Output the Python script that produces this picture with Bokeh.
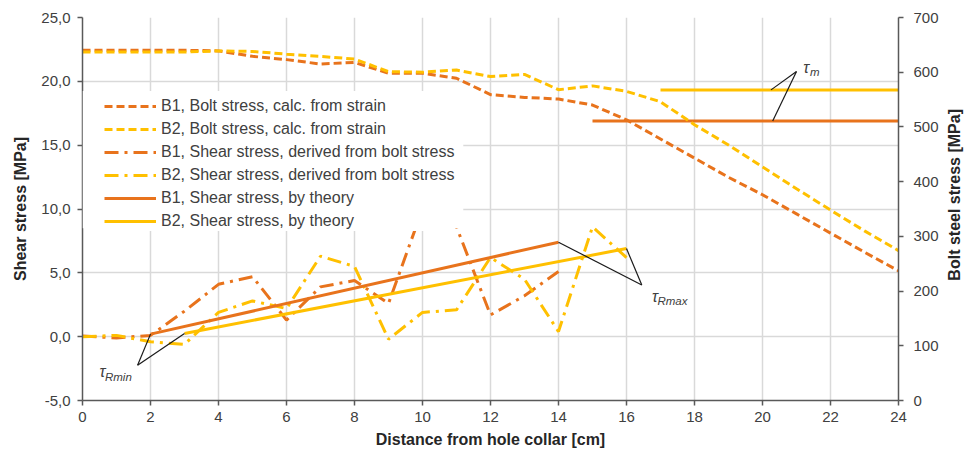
import math
from bokeh.plotting import figure
from bokeh.layouts import row
from bokeh.models import (Range1d, LinearAxis, FixedTicker, CustomJSTickFormatter,
                          Legend, LegendItem, BoxAnnotation)
from bokeh.embed import file_html
from bokeh.resources import INLINE
from bokeh.core.properties import value

# ---------------- data ----------------
bolt_dist = list(range(25))  # cm
b1_bolt = [640, 640, 640, 640, 639, 629, 623, 615, 618, 598, 598, 589, 559, 554, 551,
           540, 513, 478, 443, 408, 376, 341, 306, 271, 237]  # MPa
b2_bolt = [637, 637, 637, 637, 639, 638, 633, 629, 624, 601, 600, 604, 592, 596, 568,
           575, 565, 546, 504, 467, 427, 387, 348, 310, 274]  # MPa

b1_shear_dist = list(range(15))
b1_shear = [0.05, -0.1, 0.1, 2.0, 4.1, 4.7, 1.3, 3.9, 4.4, 2.6, 10.0, 8.6, 1.7, 3.2, 5.1]
b2_shear_dist = list(range(17))
b2_shear = [0.0, 0.1, -0.4, -0.6, 1.9, 2.8, 2.2, 6.3, 5.5, -0.2, 1.9, 2.1, 6.2, 4.5, 0.4, 8.6, 6.2]

b1_theory_dist = [2, 14]
b1_theory = [0.2, 7.4]
b2_theory_dist = [3, 16]
b2_theory = [0.25, 6.9]

b1_taum_dist = [15, 24]
b1_taum = [16.9, 16.9]
b2_taum_dist = [17, 24]
b2_taum = [19.33, 19.33]

x_ticks = list(range(0, 25, 2))
y_ticks = list(range(-5, 26, 5))
y2_ticks = list(range(0, 701, 100))

legend_labels = ["B1, Bolt stress, calc. from strain",
                 "B2, Bolt stress, calc. from strain",
                 "B1, Shear stress, derived from bolt stress",
                 "B2, Shear stress, derived from bolt stress",
                 "B1, Shear stress, by theory",
                 "B2, Shear stress, by theory"]
right_title_text = "Bolt steel stress [MPa]"

# annotation callouts (apex of each callout)
rmin_apex = (1.62, -2.24)
rmax_apex = (16.45, 4.04)
taum_apex = (21.0, 20.77)
taum_hit_x = [20.25, 20.3]

ORANGE = "#E8731C"
YELLOW = "#FFC000"
FONT = "Liberation Sans"
TXT = "#404040"

p = figure(width=944, height=452, x_range=Range1d(0, 24), y_range=Range1d(-5, 25),
           output_backend="svg", toolbar_location=None,
           min_border_left=82, min_border_right=46, min_border_top=17, min_border_bottom=52)
p.outline_line_color = None
p.background_fill_color = "white"
p.extra_y_ranges = {"bolt": Range1d(0, 700)}

# axes
p.xaxis.ticker = FixedTicker(ticks=x_ticks)
p.yaxis.ticker = FixedTicker(ticks=y_ticks)
p.yaxis.formatter = CustomJSTickFormatter(code="return tick.toFixed(1).replace('.', ',');")
p.xaxis.axis_label = "Distance from hole collar [cm]"
p.yaxis.axis_label = "Shear stress [MPa]"

ax2 = LinearAxis(y_range_name="bolt", ticker=FixedTicker(ticks=y2_ticks))
p.add_layout(ax2, "right")

for ax in [p.xaxis[0], p.yaxis[0], ax2]:
    ax.axis_line_color = "#595959"
    ax.axis_line_width = 1.5
    ax.major_tick_line_color = "#595959"
    ax.major_tick_line_width = 1.5
    ax.major_tick_out = 5
    ax.major_tick_in = 0
    ax.minor_tick_line_color = None
    ax.major_label_text_font = FONT
    ax.major_label_text_font_size = "15px"
    ax.major_label_text_color = TXT
    ax.axis_label_text_font = FONT
    ax.axis_label_text_font_size = "16px"
    ax.axis_label_text_font_style = "bold"
    ax.axis_label_text_color = "#262626"

p.xaxis.major_label_standoff = 6
p.xaxis.axis_label_standoff = 6
p.yaxis.major_label_standoff = 7
p.yaxis.axis_label_standoff = 9
ax2.major_label_standoff = 10

p.xgrid.ticker = FixedTicker(ticks=x_ticks)
p.ygrid.ticker = FixedTicker(ticks=y_ticks)
for g in [p.xgrid[0], p.ygrid[0]]:
    g.grid_line_color = "#d9d9d9"
    g.grid_line_width = 1.5

# ---------------- series ----------------
DD = "14 6 3 6"
r_b1s = p.line(b1_shear_dist, b1_shear, line_color=ORANGE, line_width=3, line_dash=DD)
r_b2s = p.line(b2_shear_dist, b2_shear, line_color=YELLOW, line_width=3, line_dash=DD)
r_b1t = p.line(b1_theory_dist, b1_theory, line_color=ORANGE, line_width=3)
r_b2t = p.line(b2_theory_dist, b2_theory, line_color=YELLOW, line_width=3)
p.line(b1_taum_dist, b1_taum, line_color=ORANGE, line_width=3)
p.line(b2_taum_dist, b2_taum, line_color=YELLOW, line_width=3)
r_b1b = p.line(bolt_dist, b1_bolt, line_color=ORANGE, line_width=3, line_dash="8 4",
               y_range_name="bolt")
r_b2b = p.line(bolt_dist, b2_bolt, line_color=YELLOW, line_width=3, line_dash="8 4",
               y_range_name="bolt")

# callouts
p.multi_line(xs=[[rmin_apex[0], b1_theory_dist[0]], [rmin_apex[0], b2_theory_dist[0]],
                 [rmax_apex[0], b1_theory_dist[-1]], [rmax_apex[0], b2_theory_dist[-1]],
                 [taum_apex[0], taum_hit_x[0]], [taum_apex[0], taum_hit_x[1]]],
             ys=[[rmin_apex[1], b1_theory[0]], [rmin_apex[1], b2_theory[0]],
                 [rmax_apex[1], b1_theory[-1]], [rmax_apex[1], b2_theory[-1]],
                 [taum_apex[1], b2_taum[0]], [taum_apex[1], b1_taum[0]]],
             line_color="#1a1a1a", line_width=1.2)

# labels: tau + subscript
p.text(x=[0.5, 16.75, 21.2], y=[-2.76, 3.12, 21.06], text=["τ", "τ", "τ"],
       text_font=value(FONT), text_font_style="italic", text_font_size="16px",
       text_color=TXT, text_baseline="middle", text_align="left")
p.text(x=[0.66, 16.91, 21.4], y=[-3.15, 2.8, 20.72], text=["Rmin", "Rmax", "m"],
       text_font=value(FONT), text_font_style="italic", text_font_size="11.5px",
       text_color=TXT, text_baseline="middle", text_align="left")

# legend background and legend
box = BoxAnnotation(left=0, right=11.2, bottom=8.5, top=19.25, fill_color="white",
                    fill_alpha=1.0, line_alpha=0)
p.add_layout(box)

legend = Legend(items=[LegendItem(label=legend_labels[i], renderers=[r])
                       for i, r in enumerate([r_b1b, r_b2b, r_b1s, r_b2s, r_b1t, r_b2t])],
                location=(22, 169))
legend.glyph_width = 52
legend.glyph_height = 20
legend.label_height = 20
legend.spacing = 3
legend.padding = 3
legend.margin = 0
legend.label_standoff = 5
legend.label_text_font = FONT
legend.label_text_font_size = "16px"
legend.label_text_color = TXT
legend.border_line_color = None
legend.background_fill_color = "white"
legend.background_fill_alpha = 1.0
p.add_layout(legend)

# narrow strip holding the right-hand axis title (reads bottom to top)
p2 = figure(width=28, height=452, x_range=Range1d(0, 1), y_range=Range1d(0, 1),
            output_backend="svg", toolbar_location=None, x_axis_type=None,
            y_axis_type=None, min_border=0)
p2.outline_line_color = None
p2.grid.visible = False
p2.text(x=[0.36], y=[0.537], text=[right_title_text], angle=math.pi / 2,
        text_font=value(FONT), text_font_style="bold", text_font_size="16px",
        text_color="#262626", text_align="center", text_baseline="middle")

layout = row(p, p2, spacing=0)
open("out.html", "w").write(file_html(layout, INLINE))
